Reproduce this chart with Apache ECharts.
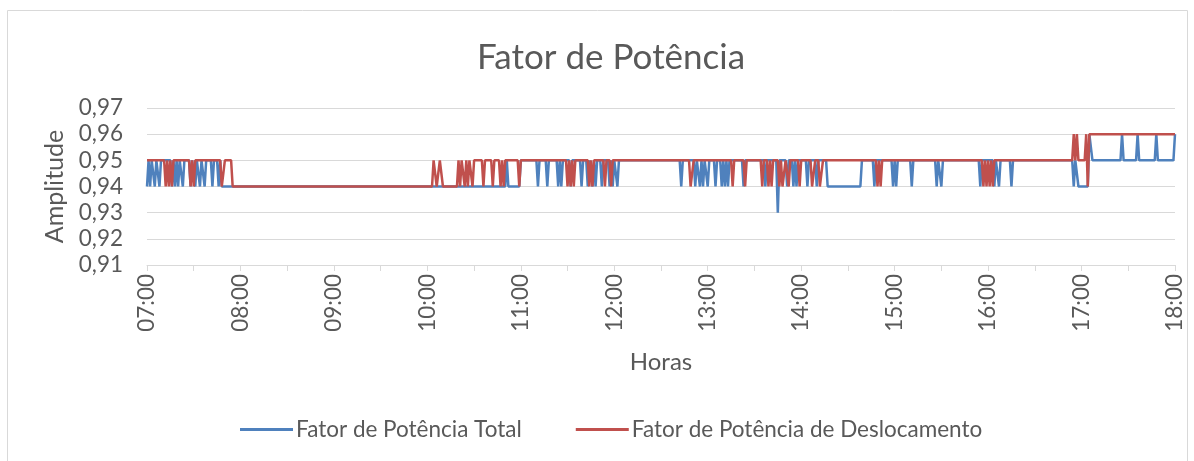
<!DOCTYPE html>
<html>
<head>
<meta charset="utf-8">
<script src="https://cdn.jsdelivr.net/npm/echarts@6/dist/echarts.min.js"></script>
<style>
  html, body { margin: 0; padding: 0; background: #fff; }
  #chart { width: 1194px; height: 461px; }
</style>
</head>
<body>
<div id="chart"></div>
<script>
// minutes after 07:00 where the value changes, and the value from that minute on
const totalRuns = [
  [0, 0.94], [1, 0.95], [2, 0.94], [3, 0.95], [5, 0.94], [6, 0.95], [8, 0.94], [9, 0.95],
  [16, 0.94], [17, 0.95], [18, 0.94], [19, 0.95], [20, 0.94], [21, 0.95], [23, 0.94], [24, 0.95],
  [28, 0.94], [29, 0.95], [31, 0.94], [32, 0.95], [34, 0.94], [35, 0.95], [37, 0.94], [38, 0.95],
  [42, 0.94], [43, 0.95], [46, 0.94], [47, 0.95], [48, 0.94],
  [231, 0.95], [232, 0.94], [240, 0.95],
  [251, 0.94], [252, 0.95], [257, 0.94], [258, 0.95], [264, 0.94], [265, 0.95], [266, 0.94], [267, 0.95],
  [272, 0.94], [273, 0.95], [279, 0.94], [280, 0.95], [283, 0.94], [284, 0.95], [286, 0.94], [287, 0.95],
  [288, 0.94], [289, 0.95], [292, 0.94], [293, 0.95], [297, 0.94], [298, 0.95], [299, 0.94], [300, 0.95],
  [302, 0.94], [303, 0.95],
  [343, 0.94], [344, 0.95], [352, 0.94], [353, 0.95], [355, 0.94], [356, 0.95], [357, 0.94], [358, 0.95],
  [360, 0.94], [361, 0.95], [365, 0.94], [366, 0.95], [369, 0.94], [370, 0.95], [371, 0.94], [372, 0.95],
  [373, 0.94], [374, 0.95], [383, 0.94], [384, 0.95], [397, 0.94], [398, 0.95], [405, 0.93], [406, 0.95],
  [411, 0.94], [412, 0.95], [415, 0.94], [416, 0.95], [417, 0.94], [418, 0.95], [424, 0.94], [425, 0.95],
  [430, 0.94], [431, 0.95], [437, 0.94], [459, 0.95],
  [467, 0.94], [468, 0.95], [479, 0.94], [480, 0.95], [481, 0.94], [482, 0.95], [491, 0.94], [492, 0.95],
  [507, 0.94], [508, 0.95], [510, 0.94], [511, 0.95], [535, 0.94], [536, 0.95],
  [544, 0.94], [545, 0.95], [547, 0.94], [548, 0.95], [555, 0.94], [556, 0.95],
  [595, 0.94], [596, 0.95], [598, 0.94], [605, 0.96], [607, 0.95],
  [626, 0.96], [627, 0.95], [636, 0.96], [637, 0.95], [648, 0.96], [649, 0.95], [660, 0.96]
];

const deslocRuns = [
  [0, 0.95], [12, 0.94], [13, 0.95], [14, 0.94], [15, 0.95], [16, 0.94], [17, 0.95],
  [28, 0.94], [29, 0.95], [30, 0.94], [31, 0.95], [48, 0.94], [50, 0.95], [55, 0.94],
  [184, 0.95], [186, 0.94], [188, 0.95], [190, 0.94],
  [200, 0.95], [201, 0.94], [202, 0.95], [204, 0.94], [205, 0.95], [206, 0.94], [207, 0.95], [209, 0.94], [210, 0.95],
  [216, 0.94], [217, 0.95], [222, 0.94], [223, 0.95], [227, 0.94], [228, 0.95], [229, 0.94], [230, 0.95],
  [239, 0.94], [240, 0.95],
  [270, 0.94], [271, 0.95], [272, 0.94], [273, 0.95], [274, 0.94], [275, 0.95],
  [284, 0.94], [285, 0.95], [286, 0.94], [287, 0.95], [294, 0.94], [295, 0.95], [298, 0.94], [299, 0.95],
  [349, 0.94], [351, 0.95], [376, 0.94], [377, 0.95], [384, 0.94], [385, 0.95], [395, 0.94], [396, 0.95],
  [399, 0.94], [400, 0.95], [401, 0.94], [402, 0.95], [406, 0.94], [407, 0.95], [408, 0.94], [410, 0.95],
  [412, 0.94], [413, 0.95], [419, 0.94], [420, 0.95], [427, 0.94], [429, 0.95], [432, 0.94], [434, 0.95],
  [469, 0.94], [470, 0.95], [471, 0.94], [472, 0.95],
  [537, 0.94], [538, 0.95], [539, 0.94], [540, 0.95], [541, 0.94], [542, 0.95], [543, 0.94], [544, 0.95],
  [595, 0.96], [596, 0.95], [597, 0.96], [598, 0.95], [603, 0.96], [604, 0.94], [605, 0.96]
];

const yTicks = { min: 0.91, max: 0.97, step: 0.01 };
const endMinute = 660;

// each run becomes its first and last sample (one sample per minute)
const toPoints = (runs) => {
  const pts = [];
  runs.forEach((r, i) => {
    const next = i + 1 < runs.length ? runs[i + 1][0] : endMinute + 1;
    pts.push([r[0], r[1]]);
    if (next - 1 > r[0]) pts.push([next - 1, r[1]]);
  });
  return pts;
};

const hhmm = (m) => {
  const h = 7 + Math.floor(m / 60);
  return (h < 10 ? "0" : "") + h + ":00";
};

const txt = "#595959";
const font = "Lato";
const chart = echarts.init(document.getElementById("chart"));

chart.setOption({
  animation: false,
  textStyle: { fontFamily: font },
  title: {
    text: "Fator de Potência",
    left: 472,
    top: 35,
    textStyle: { fontFamily: font, fontSize: 35, fontWeight: "normal", color: txt }
  },
  graphic: [{
    type: "rect",
    shape: { x: 7.5, y: 10.5, width: 1180, height: 470 },
    style: { fill: "none", stroke: "#d9d9d9", lineWidth: 1 },
    silent: true
  }],
  grid: { left: 147, right: 19, top: 108, bottom: 196 },
  legend: {
    bottom: 15,
    left: 235,
    itemGap: 54,
    itemWidth: 53,
    itemHeight: 3,
    icon: "rect",
    textStyle: { fontFamily: font, fontSize: 22.5, color: txt, padding: [0, 0, 0, -2] },
    data: ["Fator de Potência Total", "Fator de Potência de Deslocamento"]
  },
  xAxis: {
    type: "value",
    min: 0,
    max: endMinute,
    interval: 30,
    name: "Horas",
    nameLocation: "middle",
    nameGap: 85,
    nameTextStyle: { fontFamily: font, fontSize: 24, color: txt },
    axisLine: { show: true, lineStyle: { color: "#d9d9d9", width: 1 } },
    axisTick: { show: true, length: 6, lineStyle: { color: "#d9d9d9" } },
    splitLine: { show: false },
    axisLabel: {
      rotate: 90,
      margin: 9,
      fontFamily: font,
      fontSize: 22.5,
      color: txt,
      formatter: (v) => (v % 60 === 0 ? hhmm(v) : "")
    }
  },
  yAxis: {
    type: "value",
    min: yTicks.min,
    max: yTicks.max,
    interval: yTicks.step,
    name: "Amplitude",
    nameLocation: "middle",
    nameGap: 73,
    nameTextStyle: { fontFamily: font, fontSize: 25, color: txt },
    axisLine: { show: false },
    axisTick: { show: false },
    splitLine: { lineStyle: { color: "#d9d9d9", width: 1 } },
    axisLabel: {
      margin: 24,
      fontFamily: font,
      fontSize: 22.5,
      color: txt,
      formatter: (v) => v.toFixed(2).replace(".", ",")
    }
  },
  series: [
    {
      name: "Fator de Potência Total",
      type: "line",
      data: toPoints(totalRuns),
      showSymbol: false,
      lineStyle: { color: "#4f81bd", width: 2.5 },
      itemStyle: { color: "#4f81bd" }
    },
    {
      name: "Fator de Potência de Deslocamento",
      type: "line",
      data: toPoints(deslocRuns),
      showSymbol: false,
      lineStyle: { color: "#c0504d", width: 2.5 },
      itemStyle: { color: "#c0504d" }
    }
  ]
});

window.addEventListener("resize", () => {
  chart && chart.resize();
});
</script>
</body>
</html>
